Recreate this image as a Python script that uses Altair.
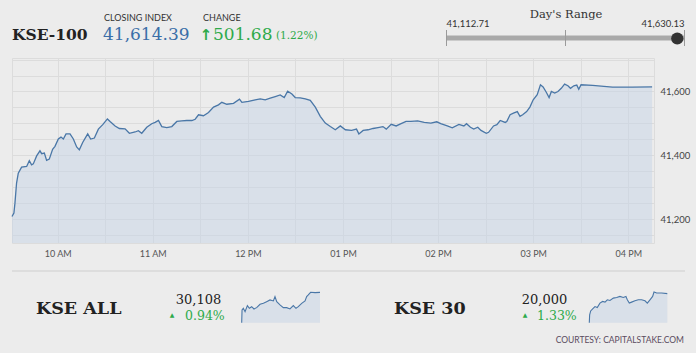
import altair as alt
import pandas as pd

# ---------------- data ----------------
HOURS = [9.52, 9.54, 9.551, 9.568, 9.586, 9.621, 9.674, 9.702, 9.726, 9.744, 9.779, 9.814, 9.832, 9.86,
         9.884, 9.912, 9.947, 9.972, 10.007, 10.035, 10.06, 10.088, 10.13, 10.165, 10.2, 10.228, 10.263,
         10.316, 10.347, 10.386, 10.428, 10.474, 10.523, 10.551, 10.604, 10.649, 10.709, 10.754, 10.814,
         10.849, 10.884, 10.937, 10.989, 11.025, 11.06, 11.095, 11.147, 11.2, 11.253, 11.305, 11.358,
         11.411, 11.446, 11.481, 11.533, 11.586, 11.639, 11.691, 11.726, 11.779, 11.849, 11.912, 11.937,
         12.007, 12.077, 12.13, 12.182, 12.235, 12.288, 12.34, 12.382, 12.418, 12.463, 12.498, 12.551,
         12.604, 12.656, 12.709, 12.761, 12.814, 12.867, 12.919, 12.972, 13.025, 13.09, 13.142, 13.167,
         13.212, 13.264, 13.316, 13.368, 13.42, 13.455, 13.507, 13.559, 13.611, 13.663, 13.715, 13.785,
         13.854, 13.924, 13.986, 14.028, 14.097, 14.149, 14.219, 14.271, 14.299, 14.34, 14.375, 14.417,
         14.451, 14.507, 14.531, 14.583, 14.618, 14.653, 14.705, 14.722, 14.757, 14.792, 14.833, 14.861,
         14.889, 14.931, 14.965, 15.0, 15.042, 15.076, 15.104, 15.139, 15.167, 15.191, 15.226, 15.26,
         15.295, 15.33, 15.365, 15.392, 15.427, 15.458, 15.479, 15.503, 15.625, 15.833, 16.042, 16.25]
VALUES = [41208, 41219, 41250, 41313, 41344, 41363, 41365, 41383, 41370, 41373, 41398, 41414, 41405, 41407,
          41384, 41388, 41419, 41428, 41451, 41457, 41451, 41467, 41467, 41451, 41426, 41417, 41440,
          41467, 41451, 41454, 41482, 41496, 41514, 41506, 41492, 41484, 41483, 41469, 41473,
          41477, 41469, 41488, 41499, 41503, 41509, 41490, 41487, 41490, 41506, 41508, 41509,
          41509, 41513, 41527, 41524, 41534, 41551, 41558, 41566, 41560, 41563, 41576, 41566,
          41569, 41574, 41577, 41574, 41579, 41584, 41589, 41581, 41601, 41592, 41581, 41580,
          41577, 41572, 41551, 41522, 41501, 41490, 41480, 41492, 41480, 41478, 41482, 41467,
          41478, 41480, 41484, 41487, 41490, 41482, 41497, 41492, 41499, 41506, 41506, 41508,
          41503, 41501, 41505, 41499, 41492, 41486, 41497, 41492, 41499, 41488, 41482, 41488,
          41478, 41469, 41472, 41492, 41496, 41509, 41503, 41506, 41527, 41532, 41537, 41522,
          41527, 41537, 41551, 41574, 41590, 41621, 41614, 41597, 41581, 41600, 41595, 41600,
          41610, 41623, 41618, 41610, 41618, 41620, 41607, 41621, 41619, 41614, 41614, 41614.39]

X_DOMAIN = [9.52, 16.27]
Y_DOMAIN = [41125, 41705]
HOUR_TICKS = [10, 11, 12, 13, 14, 15, 16]
HOUR_LABELS = ["10 AM", "11 AM", "12 PM", "01 PM", "02 PM", "03 PM", "04 PM"]
GRID_X = [9.5 + 0.5 * i for i in range(1, 14)]
GRID_Y = list(range(41150, 41701, 50))
Y_LABEL_STEP = 200

# sparklines
ALL_HOURS = [9.52, 9.55, 9.66, 9.81, 10.01, 10.18, 10.38, 10.58, 10.81, 11.10, 11.39, 11.67, 11.96, 12.25,
             12.39, 12.54, 12.82, 13.11, 13.40, 13.68, 13.97, 14.20, 14.40, 14.69, 14.98, 15.12, 15.26,
             15.46, 15.84, 16.27]
ALL_VALUES = [29830, 29947, 29962, 29931, 29987, 29962, 29977, 29956, 29968, 29999, 30008, 30023, 30039,
              30030, 30069, 30023, 29993, 29968, 29968, 29956, 29987, 29962, 29977, 30008, 30030, 30069,
              30085, 30109, 30106, 30108]
K30_HOURS = [9.52, 9.55, 9.64, 9.81, 10.01, 10.21, 10.44, 10.67, 10.88, 11.08, 11.31, 11.60, 11.89, 12.17,
             12.46, 12.69, 12.81, 12.98, 13.18, 13.47, 13.76, 14.05, 14.34, 14.54, 14.77, 15.00, 15.12,
             15.35, 15.78, 16.27]
K30_VALUES = [19737, 19807, 19843, 19861, 19882, 19873, 19913, 19928, 19922, 19943, 19937, 19958, 19964,
              19973, 19964, 19973, 19943, 19913, 19922, 19934, 19943, 19943, 19934, 19913, 19943, 19973,
              20013, 20004, 20004, 19998]

# header / footer figures
TITLE = "KSE-100"
CLOSING_LABEL = "CLOSING INDEX"
CLOSING = 41614.39
CHANGE_LABEL = "CHANGE"
CHANGE = 501.68
CHANGE_PCT = "(1.22%)"
RANGE_TITLE = "Day's Range"
RANGE_LOW = 41112.71
RANGE_HIGH = 41630.13
SUB_NAMES = ["KSE ALL", "KSE 30"]
SUB_VALUES = ["30,108", "20,000"]
SUB_PCTS = ["0.94%", "1.33%"]
COURTESY = "COURTESY: CAPITALSTAKE.COM"

# ---------------- style ----------------
W, H = 642, 185
PL, PT = 12, 58
BG = "#ececec"
LINE = "#4a77a7"
FILL = "#c5d4e5"
GREEN = "#2eaa4a"
BLUE = "#3a6ea8"
DARK = "#2b2b2b"
SERIF = "DejaVu Serif"
SANS = "Lato"


def text(s, x, y, size, color=DARK, font=SANS, weight="normal", align="left", baseline="alphabetic"):
    return alt.Chart(pd.DataFrame({"t": [s]})).mark_text(
        align=align, baseline=baseline, fontSize=size, font=font, fontWeight=weight, color=color
    ).encode(x=alt.value(x - PL), y=alt.value(y - PT), text="t:N")


main_df = pd.DataFrame({"h": HOURS, "v": VALUES})

label_expr_x = (
    "indexof(" + str(HOUR_TICKS) + ", datum.value) >= 0 ? "
    + str(HOUR_LABELS) + "[indexof(" + str(HOUR_TICKS) + ", datum.value)] : ''"
)
label_expr_y = f"datum.value % {Y_LABEL_STEP} == 0 ? format(datum.value, ',') : ''"

xs = alt.Scale(domain=X_DOMAIN, nice=False, zero=False)
ys = alt.Scale(domain=Y_DOMAIN, nice=False, zero=False)

area = alt.Chart(main_df).mark_area(color=FILL, opacity=0.5).encode(
    x=alt.X("h:Q", scale=xs, axis=None),
    y=alt.Y("v:Q", scale=ys, axis=None),
    y2=alt.datum(Y_DOMAIN[0]),
)
line = alt.Chart(main_df).mark_line(color=LINE, strokeWidth=1.3).encode(
    x=alt.X("h:Q", scale=xs, axis=alt.Axis(
        values=GRID_X, labelExpr=label_expr_x, title=None, ticks=False, domain=False,
        grid=True, gridColor="#dcdcdc", labelFont=SANS, labelFontSize=9, labelColor="#555",
        labelPadding=6, labelAngle=0)),
    y=alt.Y("v:Q", scale=ys, axis=alt.Axis(
        orient="right", values=GRID_Y, labelExpr=label_expr_y, title=None, ticks=False,
        domain=False, grid=True, gridColor="#dcdcdc", labelFont=SANS, labelFontSize=9.5,
        labelColor="#444", labelPadding=6)),
)

# sparklines
def spark(hours, values, x0, x1, ytop, ybot):
    df = pd.DataFrame({"h": hours, "v": values})
    dom = [min(values), max(values)]
    sx = alt.Scale(domain=X_DOMAIN, range=[x0 - PL, x1 - PL], nice=False, zero=False)
    sy = alt.Scale(domain=dom, range=[ybot - PT, ytop - PT], nice=False, zero=False)
    a = alt.Chart(df).mark_area(color=FILL, opacity=0.5).encode(
        x=alt.X("h:Q", scale=sx, axis=None), y=alt.Y("v:Q", scale=sy, axis=None),
        y2=alt.datum(dom[0]))
    l = alt.Chart(df).mark_line(color=LINE, strokeWidth=1.1).encode(
        x=alt.X("h:Q", scale=sx, axis=None), y=alt.Y("v:Q", scale=sy, axis=None))
    return [a, l]

# day's range
rx = alt.Scale(domain=[RANGE_LOW, RANGE_HIGH], range=[446.5 - PL, 684.5 - PL], nice=False, zero=False)
range_ends = pd.DataFrame({"lo": [RANGE_LOW], "hi": [RANGE_HIGH]})
range_bar = alt.Chart(range_ends).mark_rule(color="#a9a9a9", strokeWidth=5).encode(
    x=alt.X("lo:Q", scale=rx, axis=None), x2="hi:Q", y=alt.value(38 - PT))
ticks_df = pd.DataFrame({"v": [RANGE_LOW, (RANGE_LOW + RANGE_HIGH) / 2, RANGE_HIGH]})
range_ticks = alt.Chart(ticks_df).mark_rule(color="#9a9a9a", strokeWidth=1).encode(
    x=alt.X("v:Q", scale=rx, axis=None), y=alt.value(30 - PT), y2=alt.value(46 - PT))
close_dot = alt.Chart(pd.DataFrame({"v": [CLOSING]})).mark_circle(
    color="#333333", opacity=1, size=150).encode(
    x=alt.X("v:Q", scale=rx, axis=None), y=alt.value(38.5 - PT))
lo_lab = alt.Chart(pd.DataFrame({"v": [RANGE_LOW]})).mark_text(
    align="left", baseline="alphabetic", font=SANS, fontSize=9.5, color="#333").encode(
    x=alt.X("v:Q", scale=rx, axis=None), y=alt.value(27 - PT), text=alt.Text("v:Q", format=",.2f"))
hi_lab = alt.Chart(pd.DataFrame({"v": [RANGE_HIGH]})).mark_text(
    align="right", baseline="alphabetic", font=SANS, fontSize=9.5, color="#333").encode(
    x=alt.X("v:Q", scale=rx, axis=None), y=alt.value(27 - PT), text=alt.Text("v:Q", format=",.2f"))

sep = alt.Chart(pd.DataFrame({"a": [0]})).mark_rule(color="#d9d9d9", strokeWidth=1.5).encode(
    x=alt.value(12 - PL), x2=alt.value(685 - PL), y=alt.value(271 - PT))

layers = [
    area, line,
    text(TITLE, 12, 40, 15.5, font=SERIF, weight="bold", color="#222"),
    text(CLOSING_LABEL, 104, 21, 9, color="#333"),
    text(f"{CLOSING:,.2f}", 103, 40, 17, font=SERIF, color=BLUE),
    text(CHANGE_LABEL, 203, 21, 9, color="#333"),
    text("\u2191", 206, 39.5, 15, font="DejaVu Sans", color=GREEN, align="center", weight="bold"),
    text(f"{CHANGE:,.2f}", 213, 40, 17, font=SERIF, color=GREEN),
    text(CHANGE_PCT, 276, 39, 10.5, font=SERIF, color=GREEN),
    text(RANGE_TITLE, 566, 18, 11.5, font=SERIF, color="#333", align="center"),
    range_bar, range_ticks, close_dot, lo_lab, hi_lab,
    sep,
    text(SUB_NAMES[0], 36, 314, 17.5, font=SERIF, weight="bold", color="#222"),
    text(SUB_VALUES[0], 198.5, 304, 13, font=SERIF, color="#222", align="center"),
    text("\u25B2", 172, 317, 6, font="DejaVu Sans", color=GREEN, align="center"),
    text(SUB_PCTS[0], 185, 319.5, 12.5, font=SERIF, color=GREEN),
    *spark(ALL_HOURS, ALL_VALUES, 241.7, 320, 292.3, 322.7),
    text(SUB_NAMES[1], 394, 314, 17.5, font=SERIF, weight="bold", color="#222"),
    text(SUB_VALUES[1], 544.5, 304, 13, font=SERIF, color="#222", align="center"),
    text("\u25B2", 525, 317, 6, font="DejaVu Sans", color=GREEN, align="center"),
    text(SUB_PCTS[1], 537, 319.5, 12.5, font=SERIF, color=GREEN),
    *spark(K30_HOURS, K30_VALUES, 589.3, 667.3, 292, 322.7),
    text(COURTESY, 684, 343, 8.5, color="#5a4b5e", align="right"),
]

chart = alt.layer(*layers).resolve_scale(x="independent", y="independent").properties(
    width=W, height=H,
    padding={"left": PL, "top": PT, "right": 696 - PL - W, "bottom": 353 - PT - H},
    autosize="none",
    background=BG,
).configure_view(stroke="#dcdcdc", strokeWidth=1)

chart.save("out.html", embed_options={"renderer": "svg", "actions": False})
